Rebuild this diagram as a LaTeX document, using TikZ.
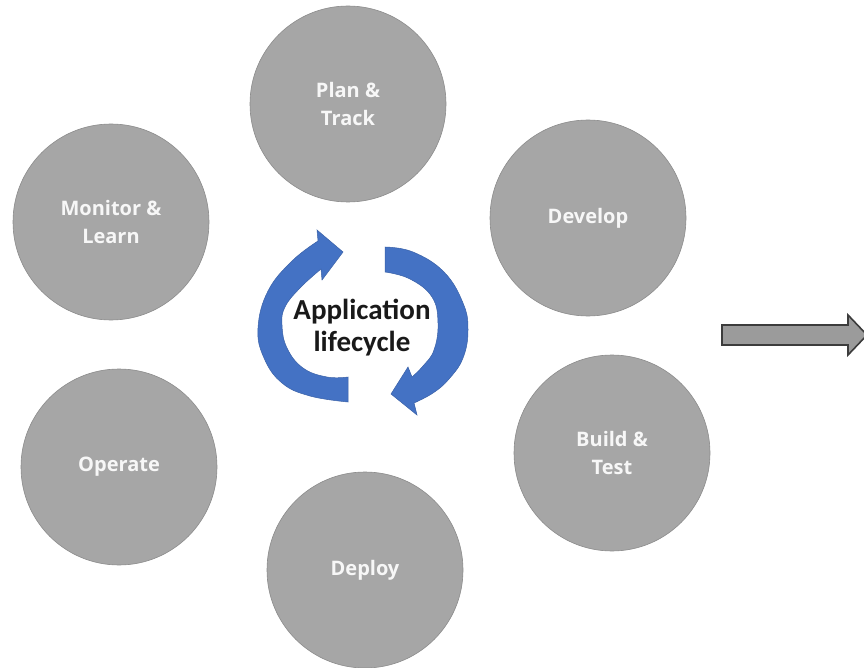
\documentclass[tikz,border=0pt]{standalone}
\usepackage{fontspec}
\setmainfont{Open Sans}
\newfontfamily\stagefont{Open Sans}
\newfontfamily\hubfont{Carlito}
\usepackage{tikz}
\definecolor{stagegrey}{RGB}{166,166,166}
\definecolor{stageline}{RGB}{140,140,140}
\definecolor{cycleblue}{RGB}{68,114,196}
\definecolor{arrowgrey}{RGB}{155,155,155}
\definecolor{arrowline}{RGB}{60,60,60}

\begin{document}
\begin{tikzpicture}[x=1pt,y=-1pt,
  stage node/.style={circle,draw=stageline,line width=0.6pt,fill=stagegrey,
    minimum size=196pt,inner sep=0pt,text=white!97!black,align=center,
    font=\stagefont\bfseries\fontsize{20}{28}\selectfont},
  cycle arrow/.style={fill=cycleblue,draw=cycleblue!85!black,line width=0.5pt}]
    \useasboundingbox (0,0) rectangle (864,668);

    % the six stages
    \node[stage node] (S1) at (348,104) {Plan \&\\Track};
    \node[stage node] (S2) at (588,218) {Develop};
    \node[stage node] (S3) at (612,453) {Build \&\\Test};
    \node[stage node] (S4) at (365,570) {Deploy};
    \node[stage node] (S5) at (119,467) {Operate};
    \node[stage node] (S6) at (111,222) {Monitor \&\\Learn};

    % centre
    \node[align=center,text=black!90,
      font=\hubfont\bfseries\fontsize{29}{32}\selectfont] (C) at (362,328)
      {Application\\lifecycle};

    \path[cycle arrow]
      plot[smooth,tension=0.7] coordinates {(348,402) (310,396) (282,383) (264,358)
        (258,328) (268,291) (292,261) (318,241)}
      -- (317,230) -- (343,252) -- (322,280)
      -- plot[smooth,tension=0.7] coordinates {(321,269) (300,288) (285,307)
        (282,325) (287,348) (303,368) (327,377) (348,377)}
      -- cycle;
    \path[cycle arrow]
      plot[smooth,tension=0.7] coordinates {(385,247) (413,252) (444,272) (463,303)
        (468,330) (463,358) (449,379) (433,393) (414,403)}
      -- (417,415) -- (391,394) -- (408,367)
      -- plot[smooth,tension=0.7] coordinates {(412,377) (423,366) (434,350)
        (438,323) (432,297) (410,279) (385,272)}
      -- cycle;

    % block arrow on the right
    \draw[fill=arrowgrey,draw=arrowline,line width=1.6pt,line join=miter]
      (722,325) -- (848,325) -- (848,315) -- (867,335) -- (848,355)
      -- (848,345) -- (722,345) -- cycle;
\end{tikzpicture}
\end{document}
